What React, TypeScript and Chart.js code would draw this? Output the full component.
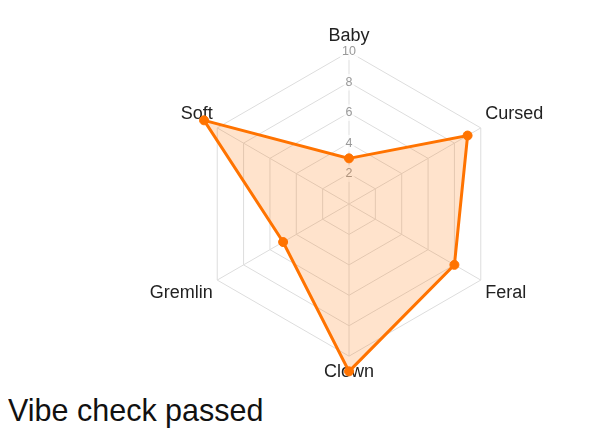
import React, { useEffect, useRef } from "react";
import { Chart, registerables } from "chart.js";

Chart.register(...registerables);

const labels = ["Baby", "Cursed", "Feral", "Clown", "Gremlin", "Soft"];
const values = [3, 9, 8, 11, 5, 11];
const seriesName = "Vibes";
const caption = "Vibe check passed";

export default function App() {
  const ref = useRef<HTMLCanvasElement | null>(null);

  useEffect(() => {
    if (!ref.current) return;
    const chart = new Chart(ref.current, {
      type: "radar",
      data: {
        labels,
        datasets: [
          {
            label: seriesName,
            data: values,
            borderColor: "#ff7300",
            backgroundColor: "rgba(255,115,0,0.2)",
            pointBackgroundColor: "#ff7300",
            pointBorderColor: "#ff7300",
            borderWidth: 3,
            pointRadius: 4.5,
            pointBorderWidth: 1,
            fill: true,
          },
        ],
      },
      options: {
        animation: false,
        responsive: true,
        maintainAspectRatio: false,
        layout: { padding: { top: 17, left: 104 } },
        plugins: { legend: { display: false }, tooltip: { enabled: false } },
        scales: {
          r: {
            min: 0,
            max: 10,
            ticks: { stepSize: 2, color: "#999", font: { size: 12.5 } },
            grid: { color: "#dddddd" },
            angleLines: { color: "#dddddd" },
            pointLabels: { color: "#222", font: { size: 18 }, padding: -3 },
          },
        },
      },
    });
    return () => chart.destroy();
  }, []);

  return (
    <div>
      <div style={{ position: "relative", width: "100%", height: 376 }}>
        <canvas ref={ref} />
      </div>
      <div
        style={{
          marginTop: 9,
          fontFamily: "Arial, 'Liberation Sans', sans-serif",
          fontSize: 30.5,
          color: "#111",
        }}
      >
        {caption}
      </div>
    </div>
  );
}
